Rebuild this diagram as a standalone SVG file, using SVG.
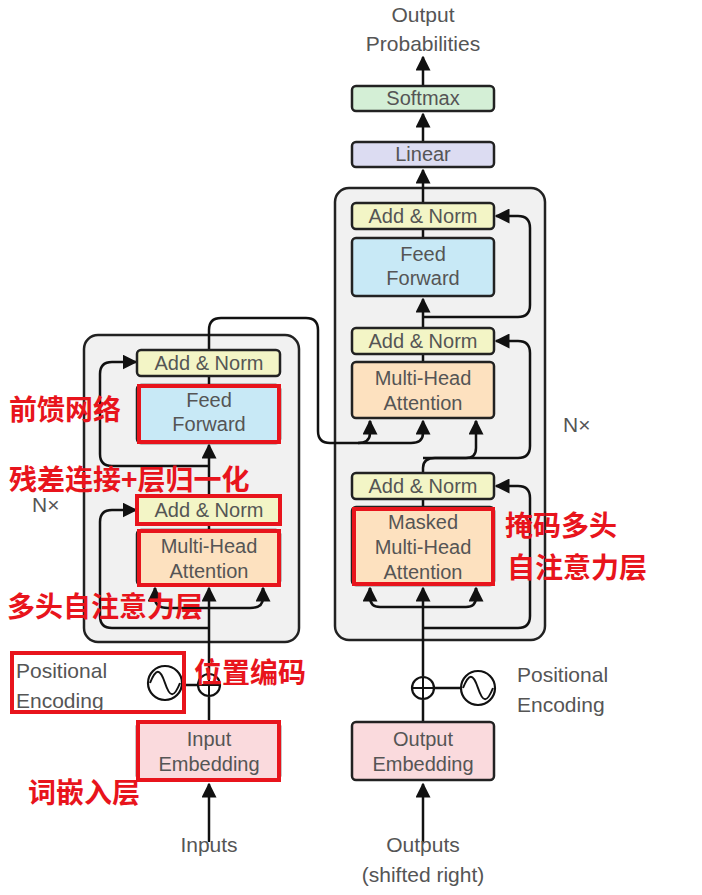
<svg xmlns="http://www.w3.org/2000/svg" width="702" height="895" viewBox="0 0 702 895">
<defs>
<marker id="ah" viewBox="0 0 10 10" refX="9" refY="5" markerWidth="6" markerHeight="6" orient="auto"><path d="M0,0 L10,5 L0,10 z" fill="#111"/></marker>
<style>
.stack{fill:#f1f1f1;stroke:#222;stroke-width:2.5}
.b{stroke:#222;stroke-width:2.5}
.an{fill:#f3f5c6}.ff{fill:#c8e9f6}.mh{fill:#fde1bf}.em{fill:#fadadd}.li{fill:#dcdcf2}.sm{fill:#d4efd6}
.t{font-family:"Liberation Sans",Arial,sans-serif;font-size:20px;fill:#555;text-anchor:middle}
.tl{font-family:"Liberation Sans",Arial,sans-serif;font-size:21px;fill:#555}
.cn{font-family:"Noto Sans CJK SC",sans-serif;font-weight:bold;font-size:28px;fill:#e8141c}
.red{fill:none;stroke:#e8141c;stroke-width:4}
.c{fill:none;stroke:#111;stroke-width:2.5}
.ca{fill:none;stroke:#111;stroke-width:2.5;marker-end:url(#ah)}
</style>
</defs>
<rect width="702" height="895" fill="#fff"/>
<rect class="stack" x="84" y="335" width="215" height="307" rx="14"/>
<rect class="stack" x="335" y="188" width="210" height="452" rx="14"/>
<g id="connectors">
<path class="ca" d="M209,842 V784"/>
<path class="c" d="M209,722 V697"/>
<path class="ca" d="M209,673 V588"/>
<path class="c" d="M209,608 H168 Q155,608 155,598 V588"/>
<path class="c" d="M209,608 H250 Q263,608 263,598 V588"/>
<path class="ca" d="M155,600 V588"/>
<path class="ca" d="M263,600 V588"/>
<path class="ca" d="M209,628 H112 Q100,628 100,616 V522 Q100,510 112,510 H136"/>
<path class="c" d="M209,530 V524"/>
<path class="ca" d="M209,496 V445"/>
<path class="ca" d="M209,466 H112 Q100,466 100,454 V374 Q100,362 112,362 H136"/>
<path class="c" d="M209,385 V376"/>
<path class="c" d="M209,350 V330 Q209,318 221,318 H306 Q318,318 318,330 V431 Q318,443 330,443 H358 Q370,443 370,433 V421"/>
<path class="ca" d="M370,432 V421"/>
<path class="c" d="M358,443 H411 Q423,443 423,433"/>
<path class="ca" d="M423,432 V421"/>
<path class="ca" d="M423,842 V784"/>
<path class="c" d="M423,722 V700"/>
<path class="c" d="M434,688 H461"/>
<path class="c" d="M198,685 H182"/>
<path class="ca" d="M423,676 V588"/>
<path class="c" d="M423,607 H380 Q370,607 370,597 V588"/>
<path class="c" d="M423,607 H466 Q476,607 476,597 V588"/>
<path class="ca" d="M370,598 V588"/>
<path class="ca" d="M476,598 V588"/>
<path class="ca" d="M423,628 H518 Q530,628 530,616 V498 Q530,486 518,486 H496"/>
<path class="c" d="M423,507 V499"/>
<path class="c" d="M423,473 V468 Q423,458 435,458 H466 Q476,458 476,448 V421"/>
<path class="ca" d="M476,432 V421"/>
<path class="ca" d="M423,458 H518 Q530,458 530,446 V353 Q530,341 518,341 H496"/>
<path class="c" d="M423,362 V354"/>
<path class="ca" d="M423,328 V299"/>
<path class="ca" d="M423,317 H518 Q530,317 530,305 V228 Q530,216 518,216 H496"/>
<path class="c" d="M423,238 V229"/>
<path class="ca" d="M423,203 V170"/>
<path class="ca" d="M423,142 V114"/>
<path class="ca" d="M423,86 V57"/>
</g>
<g id="enc-addnorm2"><rect class="b an" x="137" y="350" width="143" height="26" rx="4"/><text class="t" x="209" y="370">Add &amp; Norm</text></g>
<g id="enc-ff"><rect class="b ff" x="137" y="385" width="143" height="58" rx="4"/><text class="t" x="209" y="407">Feed</text><text class="t" x="209" y="431">Forward</text><rect class="red" x="139" y="386" width="140" height="56"/></g>
<g id="enc-addnorm1"><rect class="b an" x="137" y="496" width="143" height="28" rx="4"/><text class="t" x="209" y="517">Add &amp; Norm</text><rect class="red" x="137" y="496" width="143" height="28"/></g>
<g id="enc-mha"><rect class="b mh" x="137" y="530" width="143" height="55" rx="4"/><text class="t" x="209" y="553">Multi-Head</text><text class="t" x="209" y="578">Attention</text><rect class="red" x="139" y="531" width="140" height="54"/></g>
<g id="enc-embed"><rect class="b em" x="137" y="722" width="143" height="58" rx="4"/><text class="t" x="209" y="746">Input</text><text class="t" x="209" y="771">Embedding</text><rect class="red" x="138" y="722" width="141" height="58"/></g>
<g id="enc-plus"><circle cx="209" cy="685" r="11" fill="#fff" stroke="#111" stroke-width="2.2"/><path d="M198,685 H220 M209,674 V696" stroke="#111" stroke-width="2"/></g>
<g id="enc-pe"><circle cx="165" cy="683" r="17" fill="#fff" stroke="#111" stroke-width="2.2"/><path d="M150,683 C156,668 160,668 165,683 C170,698 174,698 180,683" fill="none" stroke="#111" stroke-width="2"/>
<text class="tl" x="16" y="678">Positional</text><text class="tl" x="16" y="708">Encoding</text><rect class="red" x="12" y="653" width="172" height="59"/></g>
<g id="dec-addnorm3"><rect class="b an" x="352" y="203" width="142" height="26" rx="4"/><text class="t" x="423" y="223">Add &amp; Norm</text></g>
<g id="dec-ff"><rect class="b ff" x="352" y="238" width="142" height="58" rx="4"/><text class="t" x="423" y="261">Feed</text><text class="t" x="423" y="285">Forward</text></g>
<g id="dec-addnorm2"><rect class="b an" x="352" y="328" width="142" height="26" rx="4"/><text class="t" x="423" y="348">Add &amp; Norm</text></g>
<g id="dec-mha"><rect class="b mh" x="352" y="362" width="142" height="56" rx="4"/><text class="t" x="423" y="385">Multi-Head</text><text class="t" x="423" y="410">Attention</text></g>
<g id="dec-addnorm1"><rect class="b an" x="352" y="473" width="142" height="26" rx="4"/><text class="t" x="423" y="493">Add &amp; Norm</text></g>
<g id="dec-masked"><rect class="b mh" x="352" y="507" width="142" height="78" rx="4"/><text class="t" x="423" y="529">Masked</text><text class="t" x="423" y="554">Multi-Head</text><text class="t" x="423" y="579">Attention</text><rect class="red" x="354" y="509" width="139" height="75"/></g>
<g id="dec-embed"><rect class="b em" x="352" y="722" width="142" height="58" rx="4"/><text class="t" x="423" y="746">Output</text><text class="t" x="423" y="771">Embedding</text></g>
<g id="dec-plus"><circle cx="423" cy="688" r="11" fill="#fff" stroke="#111" stroke-width="2.2"/><path d="M412,688 H434 M423,677 V699" stroke="#111" stroke-width="2"/></g>
<g id="dec-pe"><circle cx="478" cy="688" r="17" fill="#fff" stroke="#111" stroke-width="2.2"/><path d="M463,688 C469,673 473,673 478,688 C483,703 487,703 493,688" fill="none" stroke="#111" stroke-width="2"/>
<text class="tl" x="517" y="682">Positional</text><text class="tl" x="517" y="712">Encoding</text></g>
<g id="linear"><rect class="b li" x="352" y="142" width="142" height="25" rx="4"/><text class="t" x="423" y="161">Linear</text></g>
<g id="softmax"><rect class="b sm" x="352" y="86" width="142" height="25" rx="4"/><text class="t" x="423" y="105">Softmax</text></g>
<text class="tl" x="423" y="22" text-anchor="middle">Output</text>
<text class="tl" x="423" y="51" text-anchor="middle">Probabilities</text>
<text class="tl" x="209" y="852" text-anchor="middle">Inputs</text>
<text class="tl" x="423" y="852" text-anchor="middle">Outputs</text>
<text class="tl" x="423" y="882" text-anchor="middle">(shifted right)</text>
<text class="tl" x="32" y="512">N×</text>
<text class="tl" x="563" y="432">N×</text>
<text class="cn" x="9" y="420">前馈网络</text>
<text class="cn" x="9" y="490">残差连接+层归一化</text>
<text class="cn" x="7" y="617">多头自注意力层</text>
<text class="cn" x="194" y="683">位置编码</text>
<text class="cn" x="28" y="803">词嵌入层</text>
<text class="cn" x="505" y="536">掩码多头</text>
<text class="cn" x="507" y="578">自注意力层</text>
</svg>
